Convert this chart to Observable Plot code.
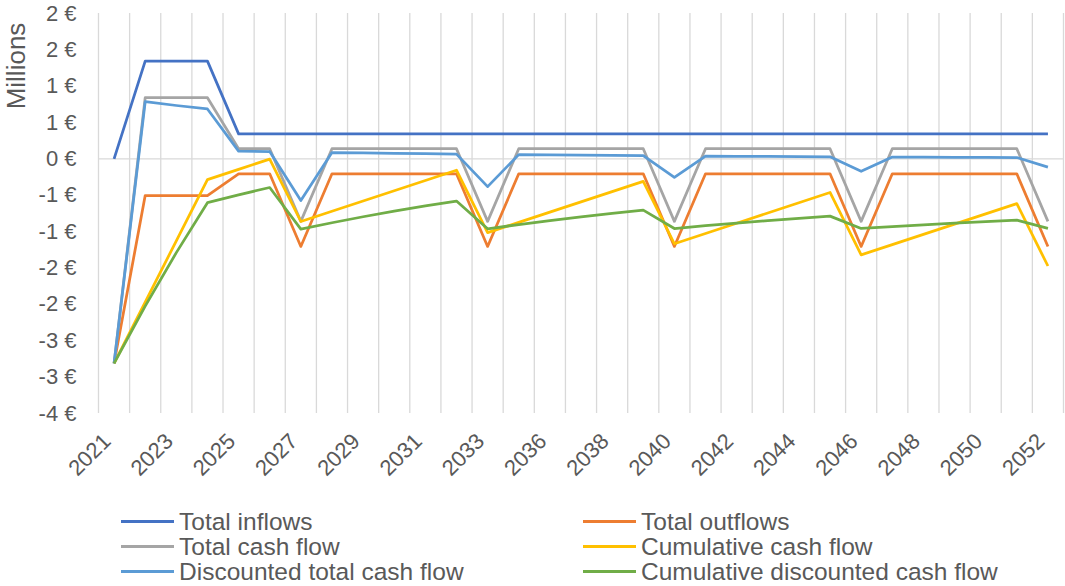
<!DOCTYPE html>
<html>
<head>
<meta charset="utf-8">
<script src="https://cdn.jsdelivr.net/npm/d3@7"></script>
<script src="https://cdn.jsdelivr.net/npm/@observablehq/plot@0.6"></script>
<style>
  html, body { margin: 0; padding: 0; background: #ffffff; }
  body { font-family: "Liberation Sans", Arial, sans-serif; }
  #wrap { width: 1065px; height: 586px; overflow: hidden; }
  #legend { position: relative; width: 1065px; height: 77px; color: #595959; font-size: 24.5px; }
  .item { position: absolute; display: flex; align-items: center; height: 25px; white-space: nowrap; }
  .sw { display: block; width: 53px; height: 3px; margin-right: 5px; }
  .lb { display: block; height: 25px; line-height: 25px; overflow: visible; }
</style>
</head>
<body>
<div id="wrap"></div>
<script>
// Categories (one year is skipped between 2033 and 2036)
const years = ["2021","2022","2023","2024","2025","2026","2027","2028","2029","2030",
               "2031","2032","2033","2034","2036","2037","2038","2039","2040","2041",
               "2042","2043","2044","2045","2046","2047","2048","2049","2050","2051","2052"];
const xTickYears = ["2021","2023","2025","2027","2029","2031","2033","2036","2038",
                    "2040","2042","2044","2046","2048","2050","2052"];
const yTicks = [2, 1.5, 1, 0.5, 0, -0.5, -1, -1.5, -2, -2.5, -3, -3.5];
const yTickLabels = ["2 €","2 €","1 €","1 €","0 €","-1 €","-1 €","-2 €","-2 €","-3 €","-3 €","-4 €"];

const seriesNames = ["Total inflows","Total outflows","Total cash flow","Cumulative cash flow",
                     "Discounted total cash flow","Cumulative discounted cash flow"];
const seriesColors = ["#4472C4","#ED7D31","#A5A5A5","#FFC000","#5B9BD5","#70AD47"];

// Values in millions of €
const totalInflows = [0, 1.345, 1.345, 1.345, 0.345, 0.345, 0.345, 0.345, 0.345, 0.345,
  0.345, 0.345, 0.345, 0.345, 0.345, 0.345, 0.345, 0.345, 0.345, 0.345,
  0.345, 0.345, 0.345, 0.345, 0.345, 0.345, 0.345, 0.345, 0.345, 0.345, 0.345];
const totalOutflows = [-2.81, -0.503, -0.503, -0.503, -0.204, -0.204, -1.203, -0.204, -0.204, -0.204,
  -0.204, -0.204, -1.203, -0.204, -0.204, -0.204, -0.204, -0.204, -1.203, -0.204,
  -0.204, -0.204, -0.204, -0.204, -1.203, -0.204, -0.204, -0.204, -0.204, -0.204, -1.203];
const totalCashFlow = [-2.81, 0.842, 0.842, 0.842, 0.141, 0.141, -0.858, 0.141, 0.141, 0.141,
  0.141, 0.141, -0.858, 0.141, 0.141, 0.141, 0.141, 0.141, -0.858, 0.141,
  0.141, 0.141, 0.141, 0.141, -0.858, 0.141, 0.141, 0.141, 0.141, 0.141, -0.858];
const cumulativeCashFlow = [-2.81, -1.968, -1.126, -0.284, -0.143, -0.002, -0.86, -0.719, -0.578, -0.437,
  -0.296, -0.155, -1.013, -0.872, -0.731, -0.59, -0.449, -0.308, -1.166, -1.025,
  -0.884, -0.743, -0.602, -0.461, -1.319, -1.178, -1.037, -0.896, -0.755, -0.614, -1.472];
const discountedCashFlow = [-2.81, 0.787, 0.735, 0.687, 0.108, 0.101, -0.572, 0.088, 0.082, 0.077,
  0.072, 0.067, -0.381, 0.059, 0.055, 0.051, 0.048, 0.045, -0.254, 0.039,
  0.036, 0.034, 0.032, 0.030, -0.169, 0.026, 0.024, 0.023, 0.021, 0.020, -0.113];
const cumulativeDiscounted = [-2.81, -2.023, -1.288, -0.601, -0.493, -0.393, -0.965, -0.877, -0.795, -0.718,
  -0.646, -0.579, -0.960, -0.902, -0.847, -0.796, -0.748, -0.703, -0.957, -0.918,
  -0.882, -0.848, -0.816, -0.786, -0.955, -0.929, -0.905, -0.882, -0.861, -0.841, -0.954];

const seriesValues = [totalInflows, totalOutflows, totalCashFlow, cumulativeCashFlow,
                      discountedCashFlow, cumulativeDiscounted];

const rows = seriesNames.flatMap((name, s) =>
  seriesValues[s].map((v, i) => ({series: name, i, v})));

// category boundaries (Excel gridlines sit between categories)
const boundaries = d3.range(-0.5, years.length, 1);

const chart = Plot.plot({
  width: 1065,
  height: 509,
  marginLeft: 98,
  marginRight: 2,
  marginTop: 13,
  marginBottom: 96,
  style: {
    fontFamily: "'Liberation Sans', Arial, sans-serif",
    fontSize: "22px",
    color: "#595959",
    background: "#ffffff",
    overflow: "visible"
  },
  x: {type: "linear", domain: [-0.5, years.length - 0.5]},
  y: {domain: [-3.5, 2]},
  color: {domain: seriesNames, range: seriesColors},
  marks: [
    Plot.ruleX(boundaries, {stroke: "#d9d9d9", strokeWidth: 1.3}),
    Plot.ruleY([0], {stroke: "#d9d9d9", strokeWidth: 1.3}),
    Plot.axisY({
      ticks: yTicks,
      tickFormat: (d) => yTickLabels[yTicks.indexOf(d)],
      tickSize: 0,
      tickPadding: 22,
      label: null
    }),
    Plot.axisX({
      ticks: xTickYears.map((y) => years.indexOf(y)),
      tickFormat: (i) => years[i],
      tickRotate: -45,
      tickSize: 0,
      tickPadding: 24,
      dx: -7,
      label: null
    }),
    Plot.line(rows, {
      x: "i", y: "v", z: "series", stroke: "series",
      strokeWidth: 2.75, strokeLinejoin: "round", strokeLinecap: "butt"
    }),
    Plot.text(["Millions"], {
      frameAnchor: "top-left", textAnchor: "middle", lineAnchor: "middle",
      rotate: -90, dx: -82, dy: 52.5,
      fontSize: 26, fill: "#595959"
    })
  ]
});

const wrap = document.getElementById("wrap");
wrap.appendChild(chart);

// Legend below the chart
const legend = document.createElement("div");
legend.id = "legend";
const colLeft = [121, 583];
seriesNames.forEach((name, k) => {
  const item = document.createElement("div");
  item.className = "item";
  item.style.left = colLeft[k % 2] + "px";
  item.style.top = (Math.floor(k / 2) * 25) + "px";
  const sw = document.createElement("span");
  sw.className = "sw";
  sw.style.background = seriesColors[k];
  const label = document.createElement("span");
  label.className = "lb";
  label.textContent = name;
  item.appendChild(sw);
  item.appendChild(label);
  legend.appendChild(item);
});
wrap.appendChild(legend);
</script>
</body>
</html>
